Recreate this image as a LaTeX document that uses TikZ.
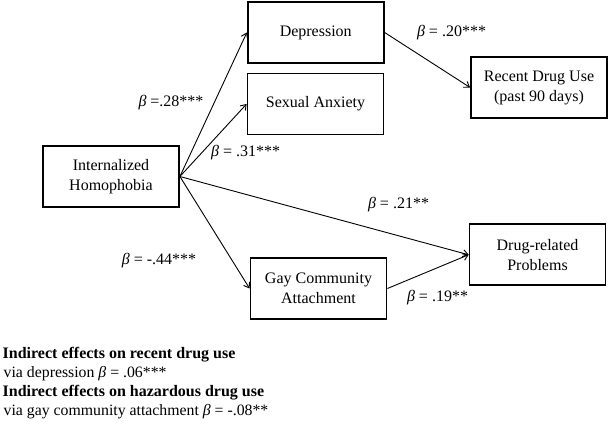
\documentclass[tikz,border=0pt]{standalone}
\usepackage{fontspec}
\setmainfont{Liberation Serif}
\usetikzlibrary{arrows.meta}
\newcommand{\bt}{\textit{β}}
\begin{document}
\begin{tikzpicture}[x=1pt,y=-1pt,
  box/.style={draw, line width=1.8pt, minimum width=136pt, minimum height=61pt,
    align=center, inner sep=0pt, font=\fontsize{16}{20}\selectfont},
  conn/.style={line width=0.9pt, -{Straight Barb[length=5pt,width=7pt]}},
  lab/.style={inner sep=0pt, font=\fontsize{16}{19}\selectfont},
  note/.style={inner sep=0pt, anchor=base west, font=\fontsize{15.8}{19}\selectfont},
  notebold/.style={inner sep=0pt, anchor=base west, font=\fontsize{16}{19}\selectfont\bfseries}]
\useasboundingbox (0,0) rectangle (609,421);
\node[box] (dep) at (315.75,32.5) {Depression};
\node[box] (sa) at (315.5,104) {Sexual Anxiety};
\node[box] (rdu) at (539,87.5) {Recent Drug Use\\(past 90 days)};
\node[box] (ih) at (111,176.5) {Internalized\\Homophobia};
\node[box] (gca) at (318.5,288.5) {Gay Community\\Attachment};
\node[box] (drp) at (537.5,254.75) {Drug-related\\Problems};
\draw[conn] (ih.east) -- (dep.west);
\draw[conn] (ih.east) -- (sa.west);
\draw[conn] (ih.east) -- (drp.west);
\draw[conn] (ih.east) -- (gca.west);
\draw[conn] (dep.east) -- (rdu.west);
\draw[conn] (gca.east) -- (drp.west);
\node[lab] (l28) at (171,103) {\bt\ =.28***};
\node[lab] (l31) at (245.6,153) {\bt\ = .31***};
\node[lab] (l20) at (451.5,33) {\bt\ = .20***};
\node[lab] (l21) at (398.5,205) {\bt\ = .21**};
\node[lab] (l44) at (159,261) {\bt\ = -.44***};
\node[lab] (l19) at (437.5,298) {\bt\ = .19**};
\node[notebold] (ind1) at (2.5,358) {Indirect effects on recent drug use};
\node[note] (ind2) at (3.5,377) {via depression \bt\ = .06***};
\node[notebold] (ind3) at (2.5,396) {Indirect effects on hazardous drug use};
\node[note] (ind4) at (3.5,415) {via gay community attachment \bt\ = -.08**};
\end{tikzpicture}
\end{document}
